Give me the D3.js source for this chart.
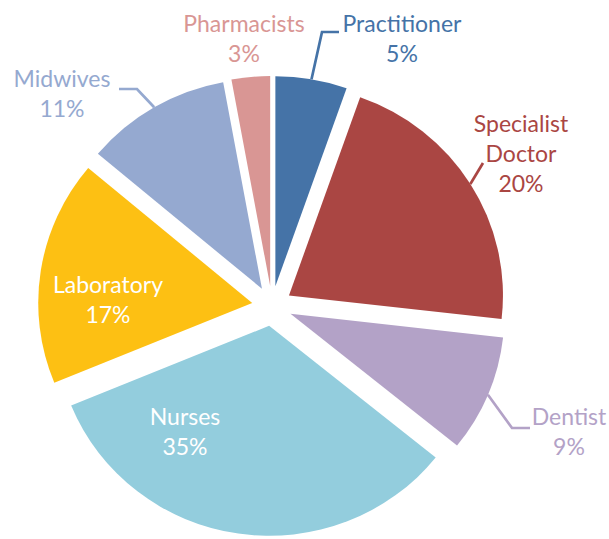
<!DOCTYPE html>
<html>
<head>
<meta charset="utf-8">
<script src="https://cdn.jsdelivr.net/npm/d3@7"></script>
<style>
  html, body { margin: 0; padding: 0; background: #fff; }
  svg text { font-family: Lato, "Open Sans", sans-serif; font-size: 23px; }
</style>
</head>
<body>
<div id="chart"></div>
<script>
// data
var categories = ["Practitioner", "Specialist Doctor", "Dentist", "Nurses", "Laboratory", "Midwives", "Pharmacists"];
var shares = [5.4, 21.4, 9.0, 33.0, 17.3, 11.0, 2.9];
var pctLabels = ["5%", "20%", "9%", "35%", "17%", "11%", "3%"];
var colors = ["#4573a7", "#aa4643", "#b3a2c7", "#93cddd", "#fdc013", "#95a9d0", "#d99694"];

// label placement (first baseline, leader elbow / end)
var labelLayout = [
  {x: 402, y: 32, lines: ["Practitioner"], elbow: [322, 32], end: [339, 32]},
  {x: 521, y: 132, lines: ["Specialist", "Doctor"], elbow: null, end: [483, 163]},
  {x: 569, y: 425, lines: ["Dentist"], elbow: [512, 428], end: [530, 428]},
  {x: 185, y: 425, lines: ["Nurses"], inside: true},
  {x: 108, y: 293, lines: ["Laboratory"], inside: true},
  {x: 62, y: 87, lines: ["Midwives"], elbow: [137, 89], end: [119, 89]},
  {x: 244, y: 32, lines: ["Pharmacists"], elbow: null, end: null}
];

var width = 609, height = 539;
var cx = 272, cy = 306, rx = 214, ry = 210, explode = 20, lineH = 30;

var svg = d3.select("#chart").append("svg").attr("width", width).attr("height", height);

var pie = d3.pie().sort(null).value(function(d){ return d; });
var arc = d3.arc().innerRadius(0).outerRadius(ry);
var arcs = pie(shares);

function shift(a) {
    var mid = (a.startAngle + a.endAngle) / 2;
    return [explode * Math.sin(mid), -explode * Math.cos(mid)];
}

var g = svg.append("g").attr("transform", "translate(" + cx + "," + cy + ")");

g.selectAll("path.slice").data(arcs).enter().append("path")
    .attr("class", "slice")
    .attr("d", arc)
    .attr("fill", function(d, i){ return colors[i]; })
    .attr("transform", function(d){
        var s = shift(d);
        return "translate(" + s[0] + "," + s[1] + ") scale(" + (rx / ry) + ",1)";
    });

// leader lines
arcs.forEach(function(a, i) {
    var lay = labelLayout[i];
    if (lay.inside || !lay.end) return;
    var mid = (a.startAngle + a.endAngle) / 2;
    var s = shift(a);
    var p0 = [cx + s[0] + rx * Math.sin(mid), cy + s[1] - ry * Math.cos(mid)];
    var pts = [p0];
    if (lay.elbow) pts.push(lay.elbow);
    pts.push(lay.end);
    svg.append("path")
        .attr("d", d3.line()(pts))
        .attr("fill", "none")
        .attr("stroke", colors[i])
        .attr("stroke-width", 2.7);
});

// labels
labelLayout.forEach(function(lay, i) {
    var lines = lay.lines.concat([pctLabels[i]]);
    var t = svg.append("text")
        .attr("text-anchor", "middle")
        .attr("fill", lay.inside ? "#ffffff" : colors[i]);
    lines.forEach(function(txt, k) {
        t.append("tspan").attr("x", lay.x).attr("y", lay.y + k * lineH).text(txt);
    });
});
</script>
</body>
</html>
